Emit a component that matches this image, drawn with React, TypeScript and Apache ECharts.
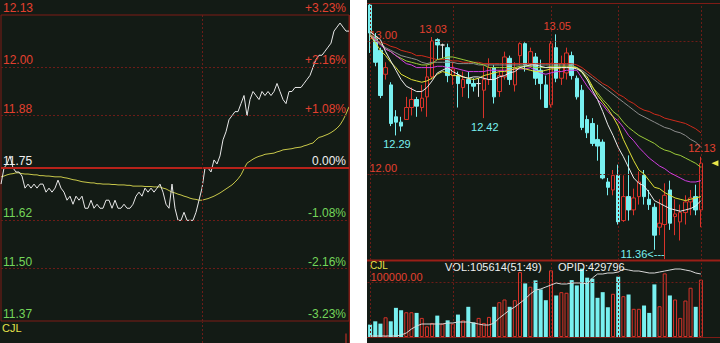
import React, { useEffect, useRef } from "react";
import * as echarts from "echarts";

// ---------- intraday (left) ----------
const PREV_CLOSE = 11.75;
const LEFT_LEVELS = [12.13, 12.0033, 11.8767, 11.75, 11.6233, 11.4967, 11.37];
const MID_SESSION_INDEX = 67;

const TICK_PRICES = [
  11.71, 11.75, 11.76, 11.78, 11.75, 11.74, 11.74, 11.73, 11.7, 11.71,
  11.7, 11.71, 11.7, 11.71, 11.71, 11.69, 11.7, 11.69, 11.7, 11.72,
  11.7, 11.69, 11.67, 11.68, 11.66, 11.68, 11.67, 11.68, 11.65, 11.65,
  11.67, 11.65, 11.66, 11.65, 11.65, 11.67, 11.67, 11.65, 11.67, 11.65,
  11.65, 11.66, 11.65, 11.65, 11.66, 11.68, 11.69, 11.68, 11.7, 11.69,
  11.7, 11.69, 11.7, 11.71, 11.69, 11.66, 11.65, 11.71, 11.65, 11.62,
  11.62, 11.64, 11.62, 11.62, 11.62, 11.64, 11.67, 11.7, 11.75, 11.75,
  11.74, 11.77, 11.76, 11.78, 11.82, 11.84, 11.87, 11.88, 11.89, 11.89,
  11.91, 11.93, 11.88, 11.92, 11.94, 11.93, 11.92, 11.94, 11.93, 11.94,
  11.93, 11.94, 11.96, 11.94, 11.92, 11.91, 11.94, 11.94, 11.95, 11.95,
  11.95, 11.96, 11.97, 11.98, 12.0, 12.02, 12.03, 12.03, 12.04, 12.05,
  12.06, 12.09, 12.1, 12.11, 12.1, 12.09, 12.09,
];

const TICK_AVG = [
  11.728, 11.73, 11.733, 11.735, 11.736, 11.738, 11.738, 11.736, 11.735, 11.735,
  11.734, 11.733, 11.733, 11.731, 11.731, 11.73, 11.73, 11.729, 11.728, 11.728,
  11.728, 11.726, 11.725, 11.723, 11.721, 11.72, 11.718, 11.716, 11.715, 11.714,
  11.713, 11.713, 11.711, 11.711, 11.71, 11.71, 11.71, 11.709, 11.709, 11.708,
  11.708, 11.708, 11.707, 11.707, 11.705, 11.705, 11.705, 11.705, 11.704, 11.704,
  11.704, 11.703, 11.703, 11.703, 11.7, 11.698, 11.694, 11.69, 11.688, 11.685,
  11.683, 11.68, 11.678, 11.675, 11.673, 11.672, 11.67, 11.67, 11.672, 11.674,
  11.677, 11.68, 11.684, 11.688, 11.693, 11.698, 11.703, 11.708, 11.715, 11.723,
  11.733, 11.748, 11.762, 11.767, 11.772, 11.776, 11.779, 11.781, 11.784, 11.785,
  11.786, 11.787, 11.79, 11.792, 11.795, 11.796, 11.797, 11.798, 11.8, 11.801,
  11.802, 11.805, 11.807, 11.81, 11.812, 11.82, 11.826, 11.828, 11.831, 11.834,
  11.838, 11.843, 11.849, 11.857, 11.869, 11.884, 11.902,
];

// last minute's volume bar peeking into the volume pane
const TICK_LAST_VOL_INDEX = 115;
const TICK_LAST_VOL = 45;

// ---------- daily k-line (right) ----------
// [open, close, low, high]
const K_OHLC = [
  [13.27, 13.06, 12.91, 13.28], [13.03, 12.84, 12.81, 13.06], [12.93, 12.59, 12.57, 12.95],
  [12.75, 12.8, 12.71, 12.84], [12.67, 12.38, 12.36, 12.69], [12.43, 12.39, 12.29, 12.48],
  [12.39, 12.36, 12.32, 12.43], [12.41, 12.5, 12.41, 12.58], [12.5, 12.56, 12.44, 12.65],
  [12.56, 12.51, 12.43, 12.58], [12.5, 12.57, 12.47, 12.67], [12.58, 12.73, 12.43, 12.82],
  [12.73, 13.0, 12.71, 13.03], [13.01, 12.97, 12.86, 13.02], [12.97, 12.97, 12.87, 12.98],
  [12.95, 12.74, 12.69, 12.98], [12.74, 12.79, 12.67, 12.84], [12.74, 12.68, 12.5, 12.77],
  [12.65, 12.71, 12.58, 12.77], [12.71, 12.68, 12.57, 12.77], [12.68, 12.66, 12.62, 12.72],
  [12.68, 12.68, 12.58, 12.72], [12.63, 12.71, 12.42, 12.81], [12.71, 12.8, 12.67, 12.87],
  [12.8, 12.58, 12.53, 12.82], [12.62, 12.74, 12.58, 12.78], [12.73, 12.88, 12.71, 12.92],
  [12.87, 12.71, 12.67, 12.89], [12.67, 12.8, 12.62, 12.84], [12.89, 12.98, 12.82, 12.99],
  [12.98, 12.82, 12.77, 12.99], [12.83, 12.92, 12.8, 12.95], [12.88, 12.72, 12.67, 12.91],
  [12.78, 12.68, 12.56, 12.86], [12.67, 12.5, 12.5, 12.74], [12.52, 12.98, 12.5, 13.0],
  [12.95, 12.72, 12.69, 13.05], [12.72, 12.83, 12.67, 12.89], [12.76, 12.91, 12.71, 12.95],
  [12.89, 12.74, 12.71, 12.92], [12.72, 12.58, 12.56, 12.74], [12.63, 12.35, 12.33, 12.67],
  [12.41, 12.31, 12.27, 12.44], [12.38, 12.23, 12.21, 12.42], [12.26, 12.21, 12.1, 12.37],
  [12.24, 11.97, 11.96, 12.26], [11.94, 11.9, 11.84, 11.97], [11.88, 11.99, 11.84, 12.03],
  [11.99, 11.64, 11.62, 12.07], [11.65, 11.83, 11.64, 11.99], [11.83, 11.73, 11.65, 12.14],
  [11.73, 11.82, 11.69, 11.89], [11.83, 11.94, 11.77, 12.02], [11.99, 11.83, 11.77, 12.03],
  [11.81, 11.77, 11.73, 11.88], [11.75, 11.54, 11.43, 11.78], [11.6, 11.63, 11.54, 11.81],
  [11.62, 11.84, 11.36, 11.93], [11.88, 11.63, 11.58, 11.95], [11.68, 11.7, 11.54, 11.81],
  [11.64, 11.71, 11.5, 11.77], [11.71, 11.79, 11.62, 11.84], [11.79, 11.82, 11.69, 11.88],
  [11.83, 11.73, 11.69, 11.92], [11.73, 12.08, 11.6, 12.13],
];

const K_VOL = [
  22800, 28900, 24600, 36300, 28900, 53700, 49300, 45600, 45600, 44400,
  35200, 19600, 25900, 39400, 24600, 30700, 24600, 41300, 30700, 55600,
  27000, 35200, 25900, 37000, 55600, 64100, 69100, 55600, 67800, 119600,
  98700, 92600, 104300, 87600, 67800, 122800, 76500, 82600, 81500, 104800,
  95000, 125900, 109300, 107400, 72200, 82600, 54800, 79600, 111100, 75200,
  78300, 51900, 51900, 58000, 44400, 96900, 56700, 117200, 76500, 69100,
  35200, 67200, 90700, 55600, 105614,
];

const K_OPID = [
  250000, 250000, 250000, 250000, 250000, 250000, 252900, 258700, 270300, 279000,
  284800, 284800, 284800, 284800, 284800, 287700, 287700, 290600, 290600, 290600,
  287700, 284800, 281900, 281900, 287700, 302200, 313800, 325400, 334100, 345700,
  357300, 371800, 383400, 386300, 392100, 397900, 403700, 400800, 400800, 403700,
  403700, 403700, 400800, 418200, 429800, 429800, 432700, 432700, 435600, 444300,
  441400, 438500, 438500, 435600, 432700, 432700, 435600, 438500, 441400, 444300,
  444300, 441400, 438500, 432700, 429796,
];

const MA5 = [
  13.07, 13.04, 13.01, 12.92, 12.85, 12.78, 12.71, 12.66, 12.64, 12.62,
  12.62, 12.65, 12.7, 12.76, 12.78, 12.8, 12.77, 12.75, 12.73, 12.72,
  12.73, 12.73, 12.72, 12.71, 12.71, 12.73, 12.74, 12.76, 12.77, 12.8,
  12.81, 12.82, 12.82, 12.81, 12.8, 12.8, 12.8, 12.8, 12.8, 12.8,
  12.79, 12.77, 12.71, 12.63, 12.56, 12.47, 12.37, 12.29, 12.2, 12.13,
  12.05, 11.97, 11.93, 11.91, 11.86, 11.8, 11.78, 11.76, 11.74, 11.73,
  11.72, 11.73, 11.74, 11.76, 11.8,
];
const MA10 = [
  13.04, 12.99, 12.93, 12.89, 12.84, 12.8, 12.75, 12.73, 12.71, 12.7,
  12.69, 12.7, 12.72, 12.75, 12.77, 12.76, 12.74, 12.74, 12.73, 12.72,
  12.71, 12.72, 12.74, 12.75, 12.76, 12.77, 12.77, 12.78, 12.79, 12.8,
  12.79, 12.78, 12.77, 12.77, 12.78, 12.79, 12.79, 12.8, 12.8, 12.8,
  12.8, 12.77, 12.73, 12.66, 12.59, 12.54, 12.49, 12.43, 12.36, 12.26,
  12.18, 12.1, 12.03, 12.0, 11.95, 11.9, 11.89, 11.86, 11.84, 11.82,
  11.81, 11.8, 11.81, 11.82, 11.83,
];
const MA20 = [
  13.04, 13.01, 12.97, 12.94, 12.92, 12.89, 12.86, 12.83, 12.82, 12.8,
  12.8, 12.8, 12.8, 12.81, 12.81, 12.8, 12.8, 12.79, 12.78, 12.77,
  12.77, 12.77, 12.77, 12.78, 12.78, 12.78, 12.78, 12.78, 12.79, 12.79,
  12.79, 12.8, 12.78, 12.76, 12.75, 12.76, 12.77, 12.77, 12.78, 12.78,
  12.78, 12.72, 12.66, 12.61, 12.56, 12.52, 12.47, 12.43, 12.4, 12.35,
  12.29, 12.25, 12.2, 12.16, 12.12, 12.09, 12.06, 12.04, 12.01, 11.99,
  11.97, 11.95, 11.94, 11.94, 11.95,
];
const MA30 = [
  13.05, 13.01, 12.98, 12.94, 12.92, 12.89, 12.87, 12.85, 12.84, 12.83,
  12.82, 12.82, 12.83, 12.86, 12.87, 12.88, 12.88, 12.87, 12.86, 12.85,
  12.84, 12.83, 12.82, 12.8, 12.8, 12.8, 12.8, 12.8, 12.8, 12.81,
  12.81, 12.81, 12.8, 12.8, 12.8, 12.81, 12.81, 12.81, 12.81, 12.81,
  12.8, 12.76, 12.71, 12.65, 12.61, 12.56, 12.52, 12.47, 12.44, 12.39,
  12.35, 12.32, 12.29, 12.27, 12.25, 12.23, 12.2, 12.18, 12.17, 12.15,
  12.14, 12.12, 12.1, 12.08, 12.05,
];
const MA60 = [
  13.05, 13.02, 12.98, 12.95, 12.93, 12.91, 12.89, 12.88, 12.87, 12.86,
  12.84, 12.83, 12.84, 12.84, 12.84, 12.84, 12.84, 12.83, 12.83, 12.83,
  12.83, 12.82, 12.82, 12.82, 12.82, 12.82, 12.82, 12.82, 12.82, 12.82,
  12.82, 12.82, 12.82, 12.82, 12.82, 12.82, 12.82, 12.82, 12.82, 12.82,
  12.8, 12.78, 12.75, 12.72, 12.69, 12.66, 12.63, 12.6, 12.57, 12.54,
  12.51, 12.48, 12.45, 12.43, 12.41, 12.39, 12.37, 12.35, 12.34, 12.32,
  12.31, 12.29, 12.26, 12.24, 12.2,
];
const MA120 = [
  13.04, 13.01, 12.99, 12.98, 12.96, 12.95, 12.93, 12.92, 12.91, 12.89,
  12.89, 12.88, 12.87, 12.86, 12.86, 12.86, 12.85, 12.85, 12.84, 12.84,
  12.84, 12.84, 12.83, 12.83, 12.83, 12.83, 12.83, 12.83, 12.83, 12.83,
  12.83, 12.83, 12.83, 12.83, 12.83, 12.83, 12.83, 12.83, 12.83, 12.83,
  12.82, 12.8, 12.77, 12.74, 12.71, 12.68, 12.66, 12.63, 12.6, 12.58,
  12.55, 12.53, 12.5, 12.48, 12.47, 12.45, 12.44, 12.42, 12.41, 12.4,
  12.39, 12.38, 12.36, 12.34, 12.31,
];

const K_LEVELS = [13, 12];
const K_DIVIDERS = [0, 16, 35, 48, 64];
const VOL_LEVEL = 100000;
const VOL_RATIO = "(51:49)";

// extreme-price annotations: [index, price, kind]
const K_MARKS: [number, number, string][] = [
  [12, 13.03, "high"],
  [36, 13.05, "high"],
  [5, 12.29, "low"],
  [22, 12.42, "low"],
  [64, 12.13, "high"],
  [57, 11.36, "lowArrow"],
];

// ---------- styling ----------
const BG = "#131b15";
const FRAME = "#7e1c16";
const DOT = "#6c1c17";
const RED = "#e3402f";
const KRED = "#d9332a";
const CYAN = "#78f0f0";
const GREEN_TXT = "#74d65a";
const WHITE_TXT = "#f0f0f0";
const CLEAR = "rgba(0,0,0,0)";
const FONT = "'Liberation Sans', Arial, sans-serif";

function levelColor(v: number) {
  if (Math.abs(v - PREV_CLOSE) < 1e-6) return WHITE_TXT;
  return v > PREV_CLOSE ? RED : GREEN_TXT;
}

function pct(v: number) {
  const p = (v / PREV_CLOSE - 1) * 100;
  if (Math.abs(p) < 0.005) return "0.00%";
  return (p > 0 ? "+" : "") + p.toFixed(2) + "%";
}

export default function App() {
  const ref = useRef<HTMLDivElement>(null);

  useEffect(() => {
    if (!ref.current) return;
    const chart = echarts.init(ref.current, undefined, { renderer: "svg" });

    const tickIdx = TICK_PRICES.map((_, i) => String(i));
    const kIdx = K_OHLC.map((_, i) => String(i));
    const lastLevel = LEFT_LEVELS.length - 1;

    const priceLevelLines = LEFT_LEVELS.map((v, k) => {
      const edge = k === 0 || k === lastLevel;
      const isPrev = Math.abs(v - PREV_CLOSE) < 1e-6;
      return {
        yAxis: v,
        lineStyle: isPrev
          ? { color: "#b8221a", width: 2, type: "solid" }
          : edge
          ? { color: CLEAR, width: 1 }
          : { color: DOT, width: 1, type: [2, 2] },
        label: {
          show: true,
          position: "insideStartTop",
          formatter: v.toFixed(2),
          color: levelColor(v),
          fontSize: 12,
          fontFamily: FONT,
          distance: [2, 1],
        },
      };
    });

    const pctLevelLines = LEFT_LEVELS.map((v) => ({
      yAxis: v,
      lineStyle: { color: CLEAR, width: 1 },
      label: {
        show: true,
        position: "insideEndTop",
        formatter: pct(v),
        color: levelColor(v),
        fontSize: 12,
        fontFamily: FONT,
        distance: [3, 1],
      },
    }));

    const vDivider = (idx: number) => ({
      xAxis: idx,
      lineStyle: { color: DOT, width: 1, type: [2, 2] },
      label: { show: false },
    });

    const candleData = K_OHLC.map((d) => {
      if (d[0] === d[1]) {
        const w = "#e4e4e4";
        return { value: d, itemStyle: { color: w, color0: w, borderColor: w, borderColor0: w } };
      }
      return d;
    });

    const volData = K_VOL.map((v, i) => {
      const up = K_OHLC[i][1] >= K_OHLC[i][0];
      return {
        value: v,
        itemStyle: up
          ? { color: BG, borderColor: KRED, borderWidth: 1 }
          : { color: CYAN, borderColor: CYAN, borderWidth: 0 },
      };
    });

    const markData: any[] = K_MARKS.map(([i, p, kind]) => {
      const isHigh = kind === "high";
      const arrow = kind === "lowArrow";
      return {
        coord: [String(i), p],
        symbol: "circle",
        symbolSize: 0,
        label: {
          show: true,
          formatter: arrow ? p.toFixed(2) + "<---" : p.toFixed(2),
          position: arrow ? "left" : isHigh ? "top" : "bottom",
          distance: arrow ? 0 : 3,
          offset: arrow ? [0, -5] : [1, 0],
          color: isHigh ? RED : CYAN,
          fontSize: 11,
          fontFamily: FONT,
        },
      };
    });
    const lastK = K_OHLC[K_OHLC.length - 1];
    markData.push({
      coord: [String(K_OHLC.length - 1), lastK[1]],
      symbol: "triangle",
      symbolSize: [6, 7],
      symbolRotate: 90,
      symbolOffset: [14, 0],
      itemStyle: { color: "#e8e64a" },
      label: { show: false },
    });

    const maDefs = [
      { d: MA120, c: "#cf2b1c" },
      { d: MA60, c: "#8c8c8c" },
      { d: MA30, c: "#9dcc3a" },
      { d: MA20, c: "#d03ee0" },
      { d: MA10, c: "#e2e238" },
      { d: MA5, c: "#ececec" },
    ];

    const leftVol = TICK_PRICES.map((_, i) => (i === TICK_LAST_VOL_INDEX ? TICK_LAST_VOL : null));

    chart.setOption({
      animation: false,
      backgroundColor: "#ffffff",
      textStyle: { fontFamily: FONT },
      graphic: [
        { type: "rect", z: -10, shape: { x: 0, y: 0, width: 350, height: 343 }, style: { fill: BG } },
        { type: "rect", z: -10, shape: { x: 367, y: 0, width: 353, height: 343 }, style: { fill: BG } },
        { type: "line", z: 5, shape: { x1: 349.5, y1: 15, x2: 349.5, y2: 343 }, style: { stroke: FRAME, lineWidth: 1 } },
        { type: "line", z: 5, shape: { x1: 367, y1: 3.5, x2: 720, y2: 3.5 }, style: { stroke: FRAME, lineWidth: 1 } },
        { type: "line", z: 5, shape: { x1: 367, y1: 260.5, x2: 720, y2: 260.5 }, style: { stroke: "#9a1f17", lineWidth: 2 } },
        { type: "line", z: 5, shape: { x1: 367, y1: 337.5, x2: 720, y2: 337.5 }, style: { stroke: FRAME, lineWidth: 1 } },
        { type: "text", z: 5, x: 2, y: 322, style: { text: "CJL", fill: "#e6e24a", font: `11px ${FONT}` } },
        { type: "text", z: 5, x: 370, y: 260, style: { text: "CJL", fill: "#e6e24a", font: `10px ${FONT}` } },
        {
          type: "text", z: 5, x: 445, y: 261,
          style: { text: `VOL:${K_VOL[K_VOL.length - 1]}${VOL_RATIO}`, fill: WHITE_TXT, font: `11px ${FONT}` },
        },
        {
          type: "text", z: 5, x: 558, y: 261,
          style: { text: `OPID:${K_OPID[K_OPID.length - 1]}`, fill: WHITE_TXT, font: `11px ${FONT}` },
        },
      ],
      grid: [
        { left: 1, top: 15, width: 348, height: 306, show: true, borderColor: FRAME, borderWidth: 1, backgroundColor: "transparent" },
        { left: 1, top: 322, width: 348, height: 21 },
        { left: 367.5, top: 4, width: 336, height: 256 },
        { left: 367.5, top: 261, width: 336, height: 76 },
      ],
      xAxis: [
        { gridIndex: 0, type: "category", data: tickIdx, boundaryGap: false, show: false },
        { gridIndex: 1, type: "category", data: tickIdx, boundaryGap: false, show: false },
        { gridIndex: 2, type: "category", data: kIdx, boundaryGap: true, show: false },
        { gridIndex: 3, type: "category", data: kIdx, boundaryGap: true, show: false },
      ],
      yAxis: [
        { gridIndex: 0, type: "value", min: LEFT_LEVELS[lastLevel], max: LEFT_LEVELS[0], show: false },
        { gridIndex: 1, type: "value", min: 0, max: 100, show: false },
        { gridIndex: 2, type: "value", min: 11.3534, max: 13.2782, show: false },
        { gridIndex: 3, type: "value", min: 0, max: 140000, show: false },
        { gridIndex: 3, type: "value", min: 247100, max: 467500, show: false },
      ],
      series: [
        {
          type: "line", xAxisIndex: 0, yAxisIndex: 0, data: TICK_PRICES,
          showSymbol: false, lineStyle: { color: "#e8e8e8", width: 1 }, z: 4,
          markLine: { silent: true, symbol: "none", data: [...priceLevelLines, vDivider(MID_SESSION_INDEX)] },
        },
        {
          type: "line", xAxisIndex: 0, yAxisIndex: 0, data: TICK_AVG,
          showSymbol: false, lineStyle: { color: "#c8c84a", width: 1 }, z: 3,
          markLine: { silent: true, symbol: "none", data: pctLevelLines },
        },
        {
          type: "bar", xAxisIndex: 1, yAxisIndex: 1, data: leftVol, barWidth: 1,
          itemStyle: { color: KRED },
          markLine: { silent: true, symbol: "none", data: [vDivider(MID_SESSION_INDEX)] },
        },
        {
          type: "candlestick", xAxisIndex: 2, yAxisIndex: 2, data: candleData, barWidth: 4,
          itemStyle: { color: BG, color0: CYAN, borderColor: KRED, borderColor0: CYAN, borderWidth: 1 },
          markLine: {
            silent: true, symbol: "none",
            data: [
              ...K_LEVELS.map((v) => ({
                yAxis: v,
                lineStyle: { color: DOT, width: 1, type: [2, 2] },
                label: {
                  show: true, position: "insideStartTop", formatter: v.toFixed(2),
                  color: RED, fontSize: 11, fontFamily: FONT, distance: [2, 1],
                },
              })),
              ...K_DIVIDERS.map(vDivider),
            ],
          },
          markPoint: { silent: true, data: markData },
        },
        ...maDefs.map((m) => ({
          type: "line", xAxisIndex: 2, yAxisIndex: 2, data: m.d, showSymbol: false,
          lineStyle: { color: m.c, width: 1 }, z: 5,
        })),
        {
          type: "bar", xAxisIndex: 3, yAxisIndex: 3, data: volData, barWidth: 4,
          markLine: {
            silent: true, symbol: "none",
            data: [
              {
                yAxis: VOL_LEVEL,
                lineStyle: { color: DOT, width: 1, type: [2, 2] },
                label: {
                  show: true, position: "insideStartTop", formatter: VOL_LEVEL.toFixed(2),
                  color: RED, fontSize: 11, fontFamily: FONT, distance: [3, 0],
                },
              },
              ...K_DIVIDERS.map(vDivider),
            ],
          },
        },
        {
          type: "line", xAxisIndex: 3, yAxisIndex: 4, data: K_OPID, showSymbol: false,
          lineStyle: { color: "#d8d8d8", width: 1 }, z: 5,
        },
      ],
    });

    return () => chart.dispose();
  }, []);

  return (
    <>
      <style>{"body{margin:0}"}</style>
      <div ref={ref} style={{ width: 720, height: 343 }} />
    </>
  );
}
